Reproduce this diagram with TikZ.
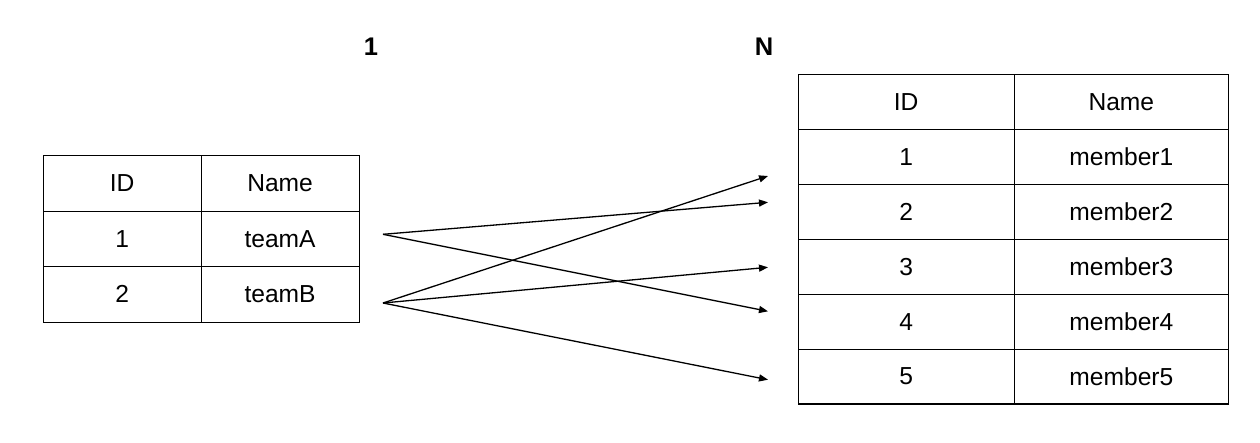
\documentclass[tikz,border=0pt]{standalone}
\usepackage{fontspec}
\setmainfont{Liberation Sans}
\usetikzlibrary{arrows.meta}
\begin{document}
\begin{tikzpicture}[x=1pt,y=-1pt,
  cell/.style={draw=black, line width=1.2pt, anchor=north west, inner sep=0pt,
    font=\fontsize{24.6}{29}\selectfont},
  lcell/.style={cell, minimum width=158pt, minimum height=55.5pt},
  rcella/.style={cell, minimum width=216pt, minimum height=54.9pt},
  rcellb/.style={cell, minimum width=214.5pt, minimum height=54.9pt},
  title/.style={font=\bfseries\fontsize{25.5}{30}\selectfont},
  link/.style={line width=1.3pt, -{Triangle[length=9pt,width=7pt]}}]
\fill[white] (0,0) rectangle (1260,442);
\useasboundingbox (0,0) rectangle (1260,442);

% titles
\node[title] (one) at (371,47) {1};
\node[title] (many) at (764,47) {N};

% left table
\node[lcell] (lh1) at (42.5,155) {ID};
\node[lcell] (lh2) at (200.5,155) {Name};
\node[lcell] (l11) at (42.5,210.5) {1};
\node[lcell] (l12) at (200.5,210.5) {teamA};
\node[lcell] (l21) at (42.5,266) {2};
\node[lcell] (l22) at (200.5,266) {teamB};

% right table
\node[rcella] (rh1) at (797.5,74) {ID};
\node[rcellb] (rh2) at (1013.5,74) {Name};
\foreach \i in {1,...,5}{
  \node[rcella] (r\i1) at (797.5,{74+54.9*\i}) {\i};
  \node[rcellb] (r\i2) at (1013.5,{74+54.9*\i}) {member\i};
}

% connector ends
\coordinate (sA) at (383,234.3);
\coordinate (sB) at (383,303);
\coordinate (t1) at (768,176);
\coordinate (t2) at (768,202.3);
\coordinate (t3) at (768,267.3);
\coordinate (t4) at (768,311.3);
\coordinate (t5) at (768,379.7);

\draw[link] (sA) -- (t2);
\draw[link] (sA) -- (t4);
\draw[link] (sB) -- (t1);
\draw[link] (sB) -- (t3);
\draw[link] (sB) -- (t5);
\end{tikzpicture}
\end{document}
